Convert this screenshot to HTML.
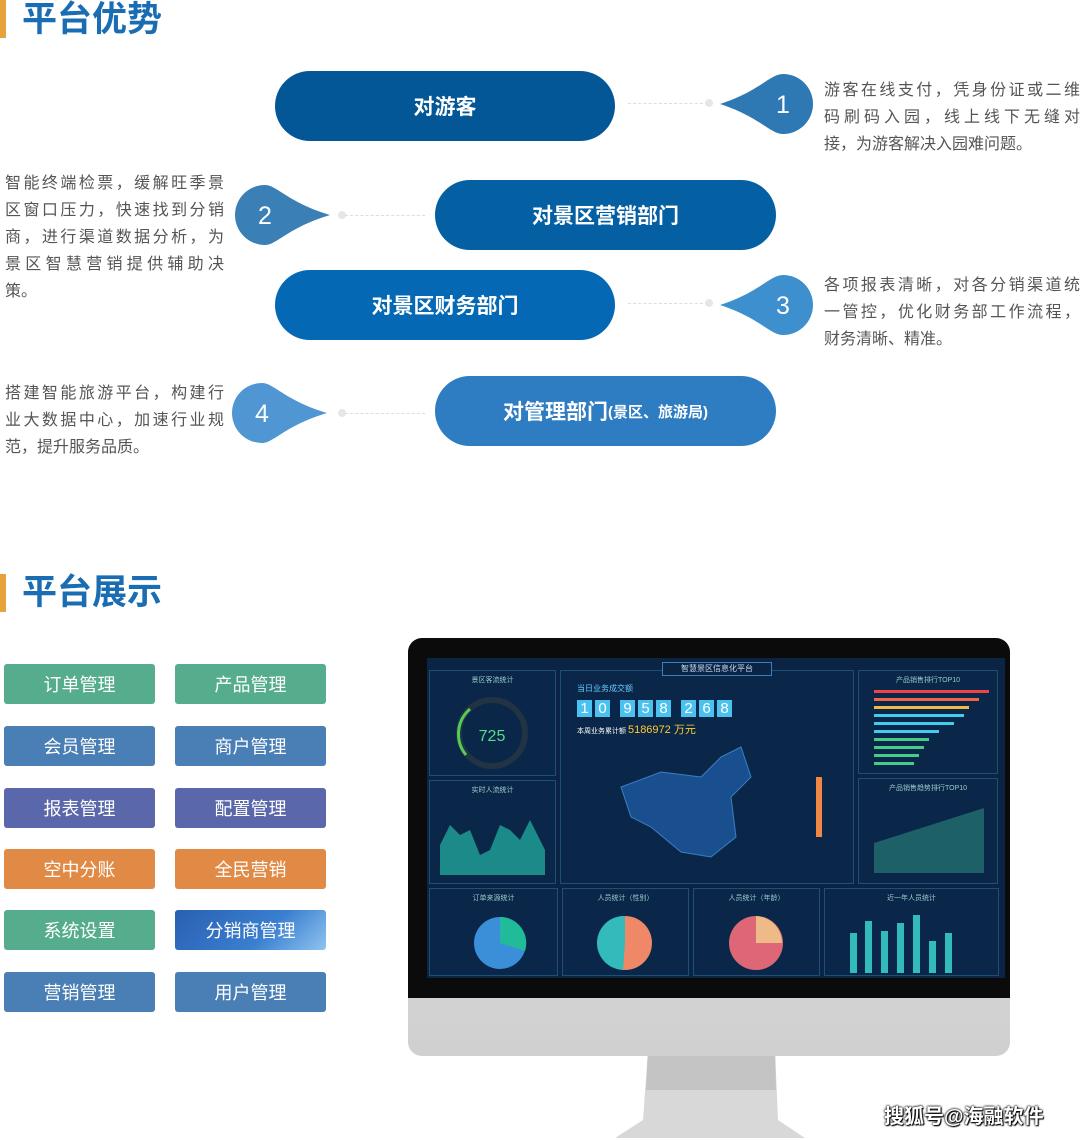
<!DOCTYPE html>
<html><head><meta charset="utf-8"><style>
*{margin:0;padding:0;box-sizing:border-box}
body{width:1080px;height:1140px;background:#fff;position:relative;overflow:hidden;font-family:"Liberation Sans","Noto Sans CJK SC",sans-serif}
.a{position:absolute}
.title{font-size:35px;font-weight:bold;color:#1a6db3;left:22px;line-height:40px}
.bar{left:0;width:6px;background:#e6a23c}
.pill{border-radius:36px;color:#fff;font-size:21px;font-weight:bold;display:flex;align-items:center;justify-content:center;height:70px;width:341px}
.txt{font-size:16px;color:#555;line-height:27px}
.txt div{text-align:justify;text-align-last:justify;height:27px;white-space:nowrap}
.txt div.l{text-align-last:left}
.dl{border-top:1px dashed #ddd;height:0;width:80px}
.dot{width:8px;height:8px;border-radius:50%;background:#e6e6e6}
.btn{width:151px;height:40px;border-radius:3px;color:#fff;font-size:18px;display:flex;align-items:center;justify-content:center}
.pn{position:absolute;border:1px solid #1d4f78;background:rgba(10,40,75,.6)}
.pt{color:#9cc;font-size:7px;text-align:center;margin-top:4px}
</style></head><body>
<div class="a bar" style="top:0;height:38px"></div>
<div class="a title" style="top:0">平台优势</div>

<div class="a pill" style="left:275px;top:71px;background:#035796;width:340px">对游客</div>
<div class="a dl" style="left:628px;top:103px"></div><div class="a dot" style="left:705px;top:99px"></div>
<svg class="a" style="left:715px;top:72px" width="100" height="64"><path d="M68 2 A30 30 0 1 1 68 62 C55 62 45 45 5 32 C45 19 55 2 68 2Z" fill="#2e79b3"/><text x="68" y="41" fill="#fff" font-size="25" text-anchor="middle" font-family="Liberation Sans">1</text></svg>
<div class="a txt" style="left:824px;top:77px;width:256px"><div>游客在线支付，凭身份证或二维</div><div>码刷码入园，线上线下无缝对</div><div class="l">接，为游客解决入园难问题。</div></div>

<div class="a txt" style="left:5px;top:170px;width:219px"><div>智能终端检票，缓解旺季景</div><div>区窗口压力，快速找到分销</div><div>商，进行渠道数据分析，为</div><div>景区智慧营销提供辅助决</div><div class="l">策。</div></div>
<svg class="a" style="left:232px;top:183px" width="100" height="64"><path d="M33 2 A30 30 0 1 0 33 62 C45 62 55 45 98 32 C55 19 45 2 33 2Z" fill="#3a80b7"/><text x="33" y="41" fill="#fff" font-size="25" text-anchor="middle" font-family="Liberation Sans">2</text></svg>
<div class="a dot" style="left:338px;top:211px"></div><div class="a dl" style="left:345px;top:215px"></div>
<div class="a pill" style="left:435px;top:180px;background:#0560a3">对景区营销部门</div>

<div class="a pill" style="left:275px;top:270px;background:#0568b4;width:340px">对景区财务部门</div>
<div class="a dl" style="left:628px;top:303px"></div><div class="a dot" style="left:705px;top:299px"></div>
<svg class="a" style="left:715px;top:273px" width="100" height="64"><path d="M68 2 A30 30 0 1 1 68 62 C55 62 45 45 5 32 C45 19 55 2 68 2Z" fill="#3d8fce"/><text x="68" y="41" fill="#fff" font-size="25" text-anchor="middle" font-family="Liberation Sans">3</text></svg>
<div class="a txt" style="left:824px;top:272px;width:256px"><div>各项报表清晰，对各分销渠道统</div><div>一管控，优化财务部工作流程，</div><div class="l">财务清晰、精准。</div></div>

<div class="a txt" style="left:5px;top:380px;width:219px"><div>搭建智能旅游平台，构建行</div><div>业大数据中心，加速行业规</div><div class="l">范，提升服务品质。</div></div>
<svg class="a" style="left:229px;top:381px" width="100" height="64"><path d="M33 2 A30 30 0 1 0 33 62 C45 62 55 45 98 32 C55 19 45 2 33 2Z" fill="#4f96d2"/><text x="33" y="41" fill="#fff" font-size="25" text-anchor="middle" font-family="Liberation Sans">4</text></svg>
<div class="a dot" style="left:338px;top:409px"></div><div class="a dl" style="left:345px;top:413px"></div>
<div class="a pill" style="left:435px;top:376px;background:#2e7cc2">对管理部门<span style="font-size:15px">(景区、旅游局)</span></div>

<div class="a bar" style="top:574px;height:38px"></div>
<div class="a title" style="top:573px">平台展示</div>

<div class="a btn" style="left:4px;top:664px;background:#55ad8d">订单管理</div>
<div class="a btn" style="left:175px;top:664px;background:#55ad8d">产品管理</div>
<div class="a btn" style="left:4px;top:726px;background:#4a7fb5">会员管理</div>
<div class="a btn" style="left:175px;top:726px;background:#4a7fb5">商户管理</div>
<div class="a btn" style="left:4px;top:788px;background:#5a68ab">报表管理</div>
<div class="a btn" style="left:175px;top:788px;background:#5a68ab">配置管理</div>
<div class="a btn" style="left:4px;top:849px;background:#e08a45">空中分账</div>
<div class="a btn" style="left:175px;top:849px;background:#e08a45">全民营销</div>
<div class="a btn" style="left:4px;top:910px;background:#55ad8d">系统设置</div>
<div class="a btn" style="left:175px;top:910px;background:linear-gradient(135deg,#2a5fb0,#3a7fd0 60%,#8fc4ef)">分销商管理</div>
<div class="a btn" style="left:4px;top:972px;background:#4a7fb5">营销管理</div>
<div class="a btn" style="left:175px;top:972px;background:#4a7fb5">用户管理</div>

<!-- monitor -->
<svg class="a" style="left:610px;top:1050px" width="200" height="90"><path d="M38 0 L165 0 L168 70 L195 88 L5 88 L33 70Z" fill="#d8d8d8"/><path d="M38 0 L165 0 L166 40 L36 40Z" fill="#c4c4c4"/></svg>
<div class="a" style="left:408px;top:638px;width:602px;height:418px;border-radius:14px;background:linear-gradient(#e2e2e2,#d0d0d0)"></div>
<div class="a" style="left:408px;top:638px;width:602px;height:360px;border-radius:14px 14px 0 0;background:#0b0b0b"></div>
<div class="a" style="left:427px;top:658px;width:578px;height:320px;background:#0b2444;overflow:hidden">
 <div class="pn" style="left:2px;top:12px;width:127px;height:106px"><div class="pt">景区客流统计</div>
  <svg width="125" height="90"><circle cx="62" cy="48" r="33" fill="none" stroke="#234" stroke-width="6"/><path d="M36 70 A33 33 0 0 1 40 24" fill="none" stroke="#5c5" stroke-width="3"/><text x="62" y="56" fill="#5d8" font-size="16" text-anchor="middle">725</text></svg></div>
 <div class="pn" style="left:2px;top:122px;width:127px;height:104px"><div class="pt">实时人流统计</div>
  <svg width="125" height="90"><path d="M10 80 L10 50 L20 30 L30 40 L40 35 L50 60 L60 55 L70 30 L80 35 L90 45 L100 25 L115 55 L115 80Z" fill="#1c8a88"/></svg></div>
 <div class="pn" style="left:133px;top:12px;width:294px;height:214px"><div style="color:#6cf;font-size:8px;margin:12px 0 0 16px">当日业务成交额</div>
  <div style="margin:6px 0 0 16px;display:flex;gap:3px">
   <span style="background:#4bc1f0;color:#fff;font-size:15px;width:15px;text-align:center">1</span><span style="background:#4bc1f0;color:#fff;font-size:15px;width:15px;text-align:center">0</span><span style="width:4px"></span><span style="background:#4bc1f0;color:#fff;font-size:15px;width:15px;text-align:center">9</span><span style="background:#4bc1f0;color:#fff;font-size:15px;width:15px;text-align:center">5</span><span style="background:#4bc1f0;color:#fff;font-size:15px;width:15px;text-align:center">8</span><span style="width:4px"></span><span style="background:#4bc1f0;color:#fff;font-size:15px;width:15px;text-align:center">2</span><span style="background:#4bc1f0;color:#fff;font-size:15px;width:15px;text-align:center">6</span><span style="background:#4bc1f0;color:#fff;font-size:15px;width:15px;text-align:center">8</span></div>
  <div style="margin:4px 0 0 16px;color:#fff;font-size:7px">本周业务累计额 <span style="color:#fc3;font-size:11px">5186972 万元</span></div>
  <svg width="290" height="130"><path d="M60 50 L100 35 L140 40 L160 20 L180 10 L190 40 L170 60 L175 100 L150 120 L120 115 L90 90 L70 80Z" fill="#1a4f8f" stroke="#3a7fc0"/><rect x="255" y="40" width="6" height="60" fill="#e84"/></svg></div>
 <div class="pn" style="left:431px;top:12px;width:140px;height:104px"><div class="pt">产品销售排行TOP10</div>
  <svg width="140" height="90"><rect x="15" y="5" width="115" height="3" fill="#e44"/><rect x="15" y="13" width="105" height="3" fill="#e64"/><rect x="15" y="21" width="95" height="3" fill="#eb4"/><rect x="15" y="29" width="90" height="3" fill="#4ce"/><rect x="15" y="37" width="80" height="3" fill="#4ce"/><rect x="15" y="45" width="65" height="3" fill="#4ce"/><rect x="15" y="53" width="55" height="3" fill="#4c8"/><rect x="15" y="61" width="50" height="3" fill="#4c8"/><rect x="15" y="69" width="45" height="3" fill="#4c8"/><rect x="15" y="77" width="40" height="3" fill="#4c8"/></svg></div>
 <div class="pn" style="left:431px;top:120px;width:140px;height:106px"><div class="pt">产品销售趋势排行TOP10</div>
  <svg width="140" height="90"><path d="M15 50 L125 15 L125 80 L15 80Z" fill="#1d6068"/></svg></div>
 <div class="pn" style="left:2px;top:230px;width:129px;height:88px"><div class="pt">订单来源统计</div><svg width="128" height="75"><circle cx="70" cy="40" r="26" fill="#3a8fd8"/><path d="M70 40 L70 14 A26 26 0 0 1 95 48Z" fill="#2b9"/></svg></div>
 <div class="pn" style="left:135px;top:230px;width:127px;height:88px"><div class="pt">人员统计（性别）</div><svg width="125" height="75"><circle cx="62" cy="40" r="27" fill="#e86"/><path d="M62 40 L62 13 A27 27 0 0 0 60 67Z" fill="#3bb"/></svg></div>
 <div class="pn" style="left:266px;top:230px;width:127px;height:88px"><div class="pt">人员统计（年龄）</div><svg width="125" height="75"><circle cx="62" cy="40" r="27" fill="#d67"/><path d="M62 40 L62 13 A27 27 0 0 1 88 40Z" fill="#eb8"/></svg></div>
 <div class="pn" style="left:397px;top:230px;width:175px;height:88px"><div class="pt">近一年人员统计</div><svg width="175" height="75"><g fill="#3bb"><rect x="25" y="30" width="7" height="40"/><rect x="40" y="18" width="7" height="52"/><rect x="56" y="28" width="7" height="42"/><rect x="72" y="20" width="7" height="50"/><rect x="88" y="12" width="7" height="58"/><rect x="104" y="38" width="7" height="32"/><rect x="120" y="30" width="7" height="40"/></g></svg></div>
 <div style="position:absolute;left:235px;top:4px;width:110px;height:14px;border:1px solid #3a7fc0;color:#cde;font-size:8px;text-align:center;background:#0b2444">智慧景区信息化平台</div>
</div>
<div class="a" style="left:884px;top:1100px;font-size:20px;font-weight:bold;color:#fff;text-shadow:0 0 2px #000,0 0 2px #000,1px 1px 1px #000">搜狐号@海融软件</div>
</body></html>
